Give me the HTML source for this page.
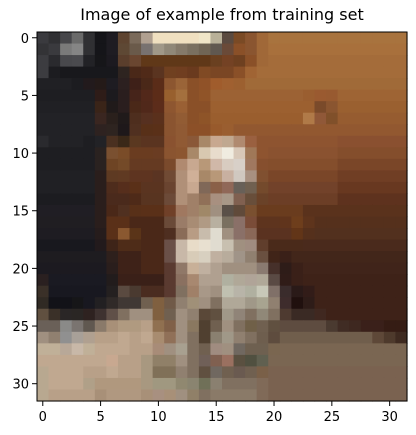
<!DOCTYPE html>
<html><head><meta charset="utf-8">
<style>
html,body{margin:0;padding:0;background:#fff;}
svg{display:block;font-family:"DejaVu Sans","Liberation Sans",sans-serif;}
</style></head>
<body>
<svg id="chart" width="416" height="435" viewBox="0 0 416 435" xmlns="http://www.w3.org/2000/svg">
<text x="222" y="20" text-anchor="middle" font-size="16" fill="#000">Image of example from training set</text>
<g id="cells"></g>
<rect x="37" y="32" width="370" height="369" fill="none" stroke="#000" stroke-width="1"/>
<g id="xticks"></g>
<g id="yticks"></g>
</svg>
<script>
const rows = [
"3a3a3e,303033,46464a,6a6a6a,303033,151519,1e1c22,5e4430,7a6a5a,b0a090,f0e0c0,f0e0c0,f0e0c0,f0e0c0,f0e6c8,b8b098,5a4a40,7a4a25,8a5530,a06838,a8733e*12",
"333336,3a3a3e,7a7a7a,858585,303033,151519,1e1c22,5e4834,6a5a4a,787270,a09888,908878,857a6a,7a7060,706555,605850,6a4a38,8a5028,8a5530,a06838,a8703c*12",
"3c3c40,2a2a2e,48484c,4a4a4e,222226,161619,1c1a20,5a3e2c,6a4630,603818*6,6a4020,744224,6e4020,8a5028,a06838,a46c3a*12",
"3c3c40,1c1c20,18181c*5,2e2420,4a2818,502a18,5a3420,704020,703e20,6a3a1e,804a24,7a4624,7a4624,8a5028,a06434,a46c3a*13",
"202024*3,1c1c20,221a1c,241a18,1e1c22,2c2020,3e2018,4a2818,5a2c18,8c5630,9a6438,8a5028,905228,a05c2c,a06030,9c6030,a06a38*14",
"1e1e22*5,2e1c18,1c1a1e,2a1e1e,46241a,52281a,5c2c18,98602e,a4703e,8a5028,905428,9c6234*8,9a5e30,9a5a30,985a30,9e6434*6",
"202024*5,3a2418,201a1a,2a1e1e,4a2818,50281a,5c2c1a,8e5630,9a6034,8a5028,8a5028,9c6030*9,7a4a2a,8a5530,9a6030*6",
"222226*5,3a2620,2a201c,201a1a,4e2e1e,563020,5a301c,8a5430,925c34,8a5028,8e5428,9a5e2e*8,b07a48,905838,80502a,965c30*6",
"222226*5,2e2220,2e2420,1e181a,503020,583018,5a3018,8a5430,905a34,8c5028,8c5028,985a2c,9a5e30,925830*15",
"2a2a2e,222226*3,1e1e22,222226,4a3020,3a2818,5a3820,5a3420,5a3420,8a5230,905a34,8a5838,a88868,c8a890,c0a890,b08a70,9a6040,8e5430*7,8a5030*6",
"1e1e22*5,2a2220,7a5030,7a4c28,6a3c20,6a3c20,6a3c22,8a5430,8c5630,a88868,d8c8b0,e8dccc,f0ece0,d8c8b8,a07858,8e5430,8a5230*6,844e2c*6",
"1e1e22*5,2a2220,6e4424,744a28,653a22*3,7a4a2c,b08a70,c8a890,b89878,d0b8a8,d8ccc0,d8d0c8,a07860,864f2e,844e2c*6,7a4628*6",
"202024*5,2a1e1c,5e3a22,603a22,5e3420,5e3420,5a3422,704a34,b09078,d0b098,a88868,b89878,c8b0a0,d0c8c0,a89080,805030,7a4628*6,703e24*6",
"202024*5,2a1e1c,4e2c1c,562e1c,5a3018,5a3420,5a3420,6a4430,b09078,c8a890,806858,8a6048,906858,686058,706050,744a2c,72422a*6,683820*6",
"1c1c20*5,2a1e1c,4a2a1c,4a2a1c,4e2a18,583420,583420,6c4a38,b09078,a08068,907058,a89080,a89888,806050,684e3a,6a4228,6c3e26*6,5e321e*6",
"201e24*5,2a1e1c,4a2818,503020,583018,5a3018,5a3018,704028,a07860,a08068,a08868,a09080,5a5048,604a3a,7a5030,6a3c1e*4,5a321c*9",
"201e22*5,2a1e1c,5a3018,5a3018,4a2818*3,6a4a38,9a7c68,a88c74,b09a84,b8b0a0,7a7060,8a7068,7a4c38,5e341e,5e341e,60341c,6e3e1c,5e341c,55301c*8",
"1e1c22*5,261c1c,5a3018,8a5830,5a3418,4a2818,4a2818,4e2e20,8a6c58,b89c84,c8bcac,e0dcd0,a09080,8a7068,8a6858,5a3220*3,623518,55301c,52301e*8",
"18181e*5,221a1c,3e2418,4e2c18,4e2c18,4a2818,4a2818,6a5048,c8b8a8,e8dcc8,e8e0d0,e0dcd0,c8c0b0,a09080,a08c80,603e2c,4a2a1a*3,4a2a1c*9",
"1e1c20*6,2e201c,3e2218,3e2218,4a2818,4a2818,6a5048,c8b8a8,d8ccb8,d8d0c0,c0b0a0,b8ac9c,a09488,908070,6a5040,402418,3a2018,42261a*10",
"1c1a20*6,2a1e1c,3e2218,3e2218,4a2818,4a2818,5a3a30,907868,c8b098,c0b0a0,b0a090,a09080*3,8a7a70,46302a,2e1c18,3a2018,40241a*9",
"2a2020,1a1a22*5,221c1c,3a2018*4,5a3a30,8a7060,a88870,b0a090,b0a090,b0b0a0,b0a898,b0a498,b0a898,5a4a44,301c18,3a2018,3e2218*9",
"3a3028,181820*5,242020,5a4a40,4a3a30,4a2c20,4a2c20,5a3a30,807060,a08068,a89888,a09080,c0c0b0,b8b4a8,b0b0a0,c8c8b8,807068,3a2c2c,2a1a18,321c18,3e2218*8",
"302a24,121218,121218,161618,181820,222022,302a28,403834,403834,706050,806040,705a48,908070,a09078,a09080,807060,b0a898,b0a898,a09888,a8a490,908070,3e2c2c,20100e,2e1c18,3e2218*8",
"605040,3a3028,2a2626,2a2624,2e2220,3e3230,605048,807060,a09080,a09080,806040,706050,a09080,908070,5a4838,605040,a09888,908478,807060,908878,807060,4e3a30,3a2a24,3a2a24,402820,3e2218*7",
"6a6058,6a6058,8a8a88,7a7470,605850,8a7a6a,a89078,b09a80,b09a80,b8a088,907050,806048,a09080,8a7860,504030,706050,a09080,807060,706048,706050,605040,5e4c40*4,4a3a30,402c24,3e2820,3a201a,3a201a,351c14,351c14",
"a09080,908070,909090,a8a098,b0a090,b8a088,b8a088,c0a890,b8a088,c0a890,a88c70,907058,a09080,807060,504030,8a8070,a09888,908070,807060,6e5e4e,5e4c3e,705e4c*8,5e4838,4e3a2c,3e2a20",
"c0b098,c0b098,b8a898,c8b8a8,c0b098,c0a890,c0a890,c0a890,b8a088,b8a088,a88c78,a09080,a8a090,807060,706050,a08c80,a09080,706860,6e6050,6e6050,7a6650,7a6652*11",
"c0a890*6,c8a890,b8a088,b8a088,a89880,908068,908068,a09080,807060,706058,806050,9a7060,5a5040,505040,606050,7a6652*12",
"b8a890,c0a890*3,b8a088,b8a088,c0a890,b8a088,b8a088,a89880,807058,807058,908070,807060,605040,706860,706050,6a5a50,706050,7a6048,7a6250*12",
"b8a890,c0a890*3,b0a088,b0987e*4,a89880,a09880,a09880,908870,8a8470,707058,8a8070,807060*3,806a58,7a6250*12",
"b8a890,b8a088*4,a89078,b09880*3,a89078,a89080,a89078,a09080,908068,807060,8a7a68*4,806a58,7a6250*12"
];
const tickValues = [0,5,10,15,20,25,30];

const NS = "http://www.w3.org/2000/svg";
const X0 = 37, Y0 = 32, W = 370, H = 369, N = 32;
const cw = W / N, ch = H / N;
function xPos(i){ return X0 + i * cw; }
function yPos(j){ return Y0 + j * ch; }

const cells = document.getElementById('cells');
rows.forEach((row, j) => {
  const cols = [];
  row.split(',').forEach(tok => {
    const [c, n] = tok.split('*');
    const k = n ? parseInt(n) : 1;
    for (let t = 0; t < k; t++) cols.push('#' + c);
  });
  cols.forEach((col, i) => {
    const r = document.createElementNS(NS, 'rect');
    r.setAttribute('x', xPos(i));
    r.setAttribute('y', yPos(j));
    r.setAttribute('width', cw + 0.6);
    r.setAttribute('height', ch + 0.6);
    r.setAttribute('fill', col);
    
    
    cells.appendChild(r);
  });
});

const xg = document.getElementById('xticks');
const yg = document.getElementById('yticks');
tickValues.forEach(v => {
  const cx = xPos(v + 0.5);
  const l = document.createElementNS(NS, 'line');
  l.setAttribute('x1', cx); l.setAttribute('x2', cx);
  l.setAttribute('y1', Y0 + H); l.setAttribute('y2', Y0 + H + 5);
  l.setAttribute('stroke', '#000');
  
  
  xg.appendChild(l);
  const t = document.createElementNS(NS, 'text');
  t.setAttribute('x', cx); t.setAttribute('y', Y0 + H + 20);
  t.setAttribute('text-anchor', 'middle'); t.setAttribute('font-size', '13');
  t.textContent = v;
  
  
  xg.appendChild(t);

  const cy = yPos(v + 0.5);
  const l2 = document.createElementNS(NS, 'line');
  l2.setAttribute('x1', X0 - 5); l2.setAttribute('x2', X0);
  l2.setAttribute('y1', cy); l2.setAttribute('y2', cy);
  l2.setAttribute('stroke', '#000');
  
  
  yg.appendChild(l2);
  const t2 = document.createElementNS(NS, 'text');
  t2.setAttribute('x', X0 - 8); t2.setAttribute('y', cy + 5);
  t2.setAttribute('text-anchor', 'end'); t2.setAttribute('font-size', '13');
  t2.textContent = v;
  
  
  yg.appendChild(t2);
});
</script>
</body></html>
